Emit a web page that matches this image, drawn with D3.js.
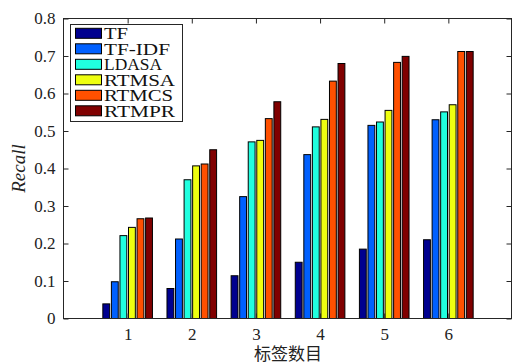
<!DOCTYPE html>
<html><head><meta charset="utf-8">
<script src="https://cdn.jsdelivr.net/npm/d3@7"></script>
<style>body{margin:0;background:#fff}svg{display:block}</style>
</head><body>
<script>
const categories = ["1","2","3","4","5","6"];
const seriesNames = ["TF","TF-IDF","LDASA","RTMSA","RTMCS","RTMPR"];
const TF     = [0.039,0.080,0.114,0.150,0.185,0.210];
const TFIDF  = [0.098,0.212,0.325,0.437,0.515,0.530];
const LDASA  = [0.221,0.370,0.471,0.511,0.524,0.551];
const RTMSA  = [0.243,0.407,0.475,0.531,0.555,0.570];
const RTMCS  = [0.266,0.412,0.533,0.633,0.683,0.712];
const RTMPR  = [0.268,0.450,0.578,0.680,0.699,0.712];
const yTicks = [0,0.1,0.2,0.3,0.4,0.5,0.6,0.7,0.8];
const colors = ["#00008f","#0060ff","#20ffdf","#efff10","#ff5000","#800000"];
const allSeries = [TF,TFIDF,LDASA,RTMSA,RTMCS,RTMPR];

const W=513,H=364;
const svg=d3.select("body").append("svg").attr("width",W).attr("height",H);
const L=63.5,R=512.5,T=18.5,B=318.5;
const x=d3.scaleLinear().domain([0,7]).range([L,R]);
const y=d3.scaleLinear().domain([0,0.8]).range([B,T]);
const font="'Liberation Serif','Times New Roman',serif";
const axisColor="#262626";

// bars
const n=allSeries.length, gw=0.8, slot=gw/n, bw=slot*0.8;
allSeries.forEach((vals,s)=>{
  svg.append("g").selectAll("rect").data(vals).join("rect")
    .attr("x",(d,i)=>x(i+1+(s-(n-1)/2)*slot-bw/2))
    .attr("width",x(bw)-x(0))
    .attr("y",d=>y(d))
    .attr("height",d=>y(0)-y(d))
    .attr("fill",colors[s]).attr("stroke","#000").attr("stroke-width",1);
});

// axes box
svg.append("rect").attr("x",L).attr("y",T).attr("width",R-L-1).attr("height",B-T)
  .attr("fill","none").attr("stroke",axisColor).attr("stroke-width",1);

// y axis
const yAxis=d3.axisLeft(y).tickValues(yTicks).tickFormat(d=>d===0?"0":d3.format(".1f")(d)).tickSize(-5).tickPadding(8);
const gy=svg.append("g").attr("transform",`translate(${L},0)`).call(yAxis);
gy.select(".domain").remove();
gy.selectAll("line").attr("stroke",axisColor);
gy.selectAll("text").attr("font-family",font).attr("font-size",17).attr("fill","#222");
const gyr=svg.append("g").attr("transform",`translate(${R-1},0)`).call(d3.axisRight(y).tickValues(yTicks).tickSize(-5).tickFormat(""));
gyr.select(".domain").remove();gyr.selectAll("line").attr("stroke",axisColor);

// x axis
const xAxis=d3.axisBottom(x).tickValues(d3.range(1,7)).tickFormat((d,i)=>categories[i]).tickSize(-5).tickPadding(9);
const gx=svg.append("g").attr("transform",`translate(0,${B})`).call(xAxis);
gx.select(".domain").remove();
gx.selectAll("line").attr("stroke",axisColor);
gx.selectAll("text").attr("font-family",font).attr("font-size",17).attr("fill","#222");
const gxt=svg.append("g").attr("transform",`translate(0,${T})`).call(d3.axisTop(x).tickValues(d3.range(1,7)).tickSize(-5).tickFormat(""));
gxt.select(".domain").remove();gxt.selectAll("line").attr("stroke",axisColor);

// labels
svg.append("text").attr("transform",`translate(25,${(T+B)/2}) rotate(-90)`)
  .attr("text-anchor","middle").attr("font-family",font).attr("font-style","italic")
  .attr("font-size",19).attr("fill","#222").text("Recall");
svg.append("text").attr("x",288).attr("y",359.5).attr("text-anchor","middle")
  .attr("font-family","'Noto Sans CJK SC',sans-serif").attr("font-size",17).attr("fill","#222").text("标签数目");

// legend
const legendWidths=[24,66,58,71,69,71];
const lg=svg.append("g");
lg.append("rect").attr("x",70.5).attr("y",24.5).attr("width",112).attr("height",97)
  .attr("fill","#fff").attr("stroke",axisColor).attr("stroke-width",1);
seriesNames.forEach((name,i)=>{
  const cy=33.3+i*15.5;
  lg.append("rect").attr("x",75.5).attr("y",cy-5).attr("width",26).attr("height",10)
    .attr("fill",colors[i]).attr("stroke","#000").attr("stroke-width",1);
  lg.append("text").attr("x",104).attr("y",cy+6).attr("font-family",font).attr("font-size",17)
    .attr("textLength",legendWidths[i]).attr("lengthAdjust","spacingAndGlyphs")
    .attr("fill","#111").text(name);
});
</script>
</body></html>
